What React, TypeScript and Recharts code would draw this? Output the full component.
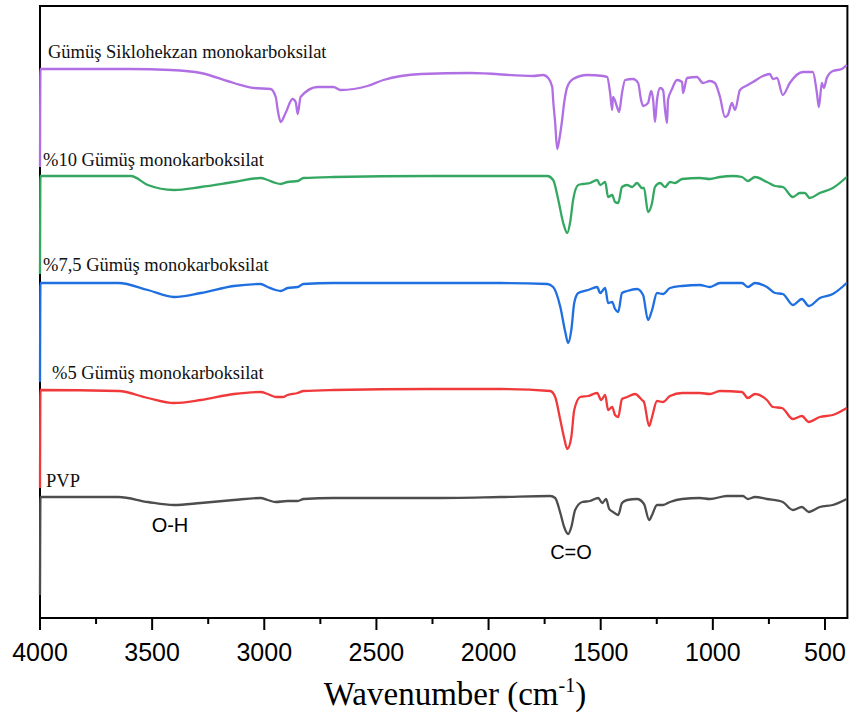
import React from "react";
import { Line, LineChart, XAxis, YAxis } from "recharts";

type Pt = [number, number];

// [wavenumber (cm-1), stacked transmittance (a.u.)]
const siklohekzan: Pt[] = [
  [4000, 45.1], [3998, 54.9], [3600, 54.9], [3417, 54.8], [3283, 54.5], [3136, 53.5],
  [3047, 53.0], [2972, 52.9], [2949, 52.1], [2940, 50.8], [2927, 49.6], [2905, 50.5],
  [2874, 51.9], [2860, 51.6], [2851, 50.4], [2838, 52.1], [2762, 53.1], [2691, 53.1],
  [2660, 52.8], [2540, 53.2], [2469, 53.8], [2300, 54.4], [2081, 54.5], [1801, 54.2],
  [1756, 54.3], [1734, 54.0], [1716, 53.1], [1712, 51.8], [1703, 49.5], [1694, 46.9],
  [1685, 47.8], [1672, 49.8], [1663, 51.5], [1649, 53.1], [1623, 53.9], [1560, 54.3],
  [1489, 54.2], [1471, 54.1], [1458, 52.5], [1449, 50.8], [1445, 52.1], [1427, 51.1],
  [1418, 50.6], [1405, 52.5], [1391, 53.8], [1356, 53.9], [1333, 53.5], [1320, 51.8],
  [1311, 51.2], [1289, 51.5], [1275, 52.7], [1266, 51.8], [1258, 49.6], [1249, 51.8],
  [1235, 53.0], [1222, 52.8], [1213, 50.8], [1204, 49.5], [1200, 51.8], [1182, 52.9],
  [1160, 53.8], [1137, 53.6], [1133, 52.5], [1115, 54.0], [1071, 54.1], [1044, 53.5],
  [1013, 53.7], [991, 53.5], [968, 52.1], [946, 50.1], [933, 50.3], [915, 51.5],
  [901, 50.8], [879, 52.8], [844, 53.3], [821, 53.6], [777, 54.2], [746, 54.4],
  [732, 53.9], [714, 54.0], [688, 52.3], [657, 53.5], [599, 54.6], [554, 54.6],
  [536, 52.5], [527, 51.1], [514, 53.5], [505, 53.0], [492, 54.0], [465, 54.7],
  [425, 54.9], [403, 55.3],
];

const yuzde10: Pt[] = [
  [4000, 34.4], [3998, 44.2], [3595, 44.2], [3519, 43.3], [3403, 42.8], [3283, 43.1],
  [3136, 43.6], [3016, 44.0], [2985, 43.8], [2949, 43.5], [2927, 43.4], [2896, 43.6],
  [2851, 43.7], [2825, 44.0], [2691, 44.1], [2259, 44.2], [1948, 44.2], [1738, 44.2],
  [1712, 43.8], [1689, 41.8], [1667, 39.5], [1649, 38.5], [1636, 39.6], [1623, 41.8],
  [1600, 43.3], [1578, 43.4], [1547, 43.5], [1516, 43.8], [1502, 43.3], [1480, 43.6],
  [1467, 42.1], [1449, 42.3], [1436, 41.6], [1422, 41.5], [1405, 43.1], [1382, 43.3],
  [1360, 43.1], [1338, 43.5], [1316, 43.0], [1307, 43.0], [1289, 40.6], [1271, 41.5],
  [1258, 43.1], [1235, 43.5], [1213, 43.1], [1191, 43.6], [1169, 43.5], [1137, 43.9],
  [1058, 44.0], [1013, 43.9], [968, 44.1], [910, 44.2], [870, 44.1], [844, 43.7],
  [812, 44.1], [759, 43.6], [723, 43.2], [688, 43.1], [643, 42.1], [612, 42.5],
  [590, 42.5], [568, 42.0], [523, 42.5], [465, 43.0], [403, 44.1],
];

const yuzde75: Pt[] = [
  [4000, 23.6], [3998, 33.5], [3650, 33.5], [3519, 32.8], [3403, 32.1], [3283, 32.5],
  [3136, 33.2], [3016, 33.4], [2985, 33.1], [2949, 32.8], [2927, 32.7], [2896, 33.0],
  [2851, 33.1], [2825, 33.4], [2691, 33.5], [2259, 33.5], [1948, 33.5], [1738, 33.4],
  [1712, 33.1], [1680, 31.1], [1658, 28.6], [1645, 27.5], [1631, 28.8], [1618, 31.5],
  [1600, 32.5], [1556, 32.8], [1516, 33.1], [1502, 32.5], [1480, 33.0], [1467, 31.5],
  [1449, 31.6], [1436, 30.9], [1422, 30.6], [1405, 32.5], [1382, 32.7], [1338, 32.9],
  [1311, 32.3], [1289, 29.8], [1271, 30.8], [1249, 32.5], [1222, 32.4], [1191, 33.0],
  [1137, 33.2], [1058, 33.3], [1013, 33.1], [968, 33.5], [870, 33.5], [844, 33.1],
  [812, 33.5], [759, 33.1], [723, 32.5], [688, 32.4], [643, 31.3], [603, 31.9],
  [572, 31.2], [523, 32.0], [465, 32.4], [403, 33.5],
];

const yuzde5: Pt[] = [
  [4000, 13.0], [3998, 22.8], [3650, 22.7], [3519, 22.0], [3403, 21.5], [3283, 21.8],
  [3136, 22.4], [3016, 22.6], [2985, 22.4], [2949, 22.1], [2918, 22.1], [2896, 22.3],
  [2851, 22.5], [2825, 22.7], [2691, 22.8], [2259, 22.9], [1948, 22.9], [1725, 22.7],
  [1703, 22.1], [1680, 19.8], [1663, 18.0], [1649, 16.9], [1631, 18.1], [1618, 20.8],
  [1591, 22.1], [1556, 22.2], [1516, 22.5], [1498, 21.8], [1480, 22.3], [1467, 20.8],
  [1449, 21.1], [1436, 20.3], [1422, 20.1], [1405, 21.9], [1382, 22.1], [1347, 22.4],
  [1316, 21.8], [1307, 21.6], [1284, 19.2], [1271, 20.1], [1249, 21.7], [1222, 21.6],
  [1191, 22.2], [1137, 22.5], [1058, 22.5], [1013, 22.4], [968, 22.7], [870, 22.6],
  [844, 22.0], [812, 22.4], [759, 21.8], [732, 21.1], [692, 21.0], [643, 19.9],
  [603, 20.2], [572, 19.6], [523, 20.1], [465, 20.3], [403, 21.0],
];

const pvp: Pt[] = [
  [4000, 2.3], [3998, 12.1], [3650, 12.1], [3519, 11.6], [3403, 11.3], [3283, 11.5],
  [3136, 11.8], [3016, 12.0], [2985, 11.8], [2949, 11.6], [2896, 11.7], [2851, 11.7],
  [2825, 11.9], [2691, 12.0], [2259, 12.0], [1948, 12.1], [1725, 12.2], [1703, 12.0],
  [1680, 10.5], [1663, 9.1], [1645, 8.4], [1631, 9.1], [1614, 10.8], [1582, 11.6],
  [1547, 11.7], [1511, 12.0], [1493, 11.5], [1476, 11.9], [1462, 10.9], [1445, 10.6],
  [1422, 10.3], [1405, 11.5], [1382, 11.8], [1338, 11.9], [1307, 11.4], [1284, 9.8],
  [1271, 10.3], [1249, 11.3], [1222, 11.3], [1191, 11.6], [1137, 11.9], [1058, 12.0],
  [1013, 11.9], [937, 12.2], [866, 12.2], [844, 11.9], [812, 12.1], [759, 11.9],
  [688, 11.6], [643, 10.8], [603, 11.1], [572, 10.6], [523, 11.1], [465, 11.3],
  [403, 11.9],
];

const xTicks = [4000, 3750, 3500, 3250, 3000, 2750, 2500, 2250, 2000, 1750, 1500, 1250, 1000, 750, 500];

const series = [
  { name: "Gümüş Siklohekzan monokarboksilat", color: "#b06fe3", data: siklohekzan },
  { name: "%10 Gümüş monokarboksilat", color: "#34a862", data: yuzde10 },
  { name: "%7,5 Gümüş monokarboksilat", color: "#1f6fe0", data: yuzde75 },
  { name: "%5 Gümüş monokarboksilat", color: "#f0393b", data: yuzde5 },
  { name: "PVP", color: "#4d4d4d", data: pvp },
];

const toRows = (pts: Pt[]) => pts.map(([wavenumber, value]) => ({ wavenumber, value }));

const sans = "'Liberation Sans', Arial, sans-serif";
const serif = "'Liberation Serif', 'Times New Roman', serif";

// plot box
const W = 849;
const H = 715;
const box = { left: 40, top: 6, right: 847.4, bottom: 618 };

const WaveTick = (props: any) => {
  const { x, y, payload } = props;
  const major = payload.value % 500 === 0;
  return (
    <g>
      <line x1={x} x2={x} y1={y} y2={y + (major ? 12 : 6)} stroke="#000" strokeWidth={2} />
      {major && (
        <text x={x} y={y + 43} textAnchor="middle" fontFamily={sans} fontSize={25} fill="#000">
          {payload.value}
        </text>
      )}
    </g>
  );
};

export default function App() {
  return (
    <div style={{ position: "relative", width: W, height: H, background: "#fff" }}>
      <style>{`body{margin:0}`}</style>
      <svg width={W} height={H} style={{ position: "absolute", left: 0, top: 0 }}>
        <rect
          x={box.left}
          y={box.top}
          width={box.right - box.left}
          height={box.bottom - box.top}
          fill="none"
          stroke="#000"
          strokeWidth={2}
        />
      </svg>
      <div style={{ position: "absolute", left: 0, top: 0 }}>
        <LineChart
          width={W}
          height={H}
          margin={{ top: box.top, right: W - box.right, left: box.left, bottom: H - box.bottom - 60 }}
        >
          <XAxis
            dataKey="wavenumber"
            type="number"
            domain={[400, 4000]}
            reversed
            ticks={xTicks}
            interval={0}
            height={60}
            tickSize={0}
            tickMargin={0}
            tick={<WaveTick />}
            axisLine={false}
          />
          <YAxis type="number" domain={[0, 61.2]} width={0} tick={false} tickLine={false} axisLine={false} />
          {series.map((s) => (
            <Line
              key={s.name}
              data={toRows(s.data)}
              dataKey="value"
              name={s.name}
              type="monotoneX"
              stroke={s.color}
              strokeWidth={2.3}
              dot={false}
              isAnimationActive={false}
            />
          ))}
        </LineChart>
      </div>
      <svg
        width={W}
        height={H}
        style={{ position: "absolute", left: 0, top: 0, pointerEvents: "none" }}
      >
        <g fontFamily={serif} fontSize={18.5} fill="#111">
          <text x={48} y={58}>{series[0].name}</text>
          <text x={43} y={166}>{series[1].name}</text>
          <text x={43} y={271}>{series[2].name}</text>
          <text x={52} y={379}>{series[3].name}</text>
          <text x={46} y={487}>{series[4].name}</text>
        </g>
        <g fontFamily={sans} fontSize={20} fill="#000" textAnchor="middle">
          <text x={170} y={532}>O-H</text>
          <text x={571} y={559}>C=O</text>
        </g>
        <text x={455} y={705} textAnchor="middle" fontFamily={serif} fontSize={33} fill="#000">
          Wavenumber (cm
          <tspan dy={-13} fontSize={20}>-1</tspan>
          <tspan dy={13}>)</tspan>
        </text>
      </svg>
    </div>
  );
}
